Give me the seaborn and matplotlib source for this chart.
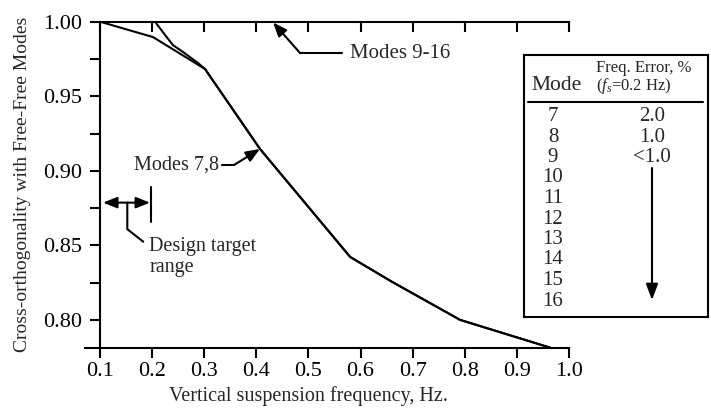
import numpy as np
import pandas as pd
import seaborn as sns
import matplotlib.pyplot as plt
from matplotlib.ticker import MultipleLocator

sns.set_theme(style="ticks")
plt.rcParams["font.family"] = ["Liberation Serif", "DejaVu Serif"]
plt.rcParams["mathtext.fontset"] = "custom"
plt.rcParams["mathtext.rm"] = "Liberation Serif"
plt.rcParams["mathtext.it"] = "Liberation Serif:italic"

# curve data
freq_78 = [0.1, 0.2017, 0.3015, 0.407, 0.580, 0.660, 0.791, 0.9637]
orth_78 = [1.0, 0.9897, 0.9683, 0.9147, 0.8423, 0.8257, 0.8001, 0.7815]
freq_916 = [0.2056, 0.2248, 0.2401, 0.2593, 0.288, 0.3015, 0.407, 0.580, 0.660, 0.791, 0.9637]
orth_916 = [1.0, 0.9911, 0.9843, 0.9797, 0.9723, 0.9683, 0.9147, 0.8423, 0.8257, 0.8001, 0.7815]

x_ticks = [0.1, 0.2, 0.3, 0.4, 0.5, 0.6, 0.7, 0.8, 0.9, 1.0]
y_ticks = [0.80, 0.85, 0.90, 0.95, 1.00]

modes = [7, 8, 9, 10, 11, 12, 13, 14, 15, 16]
freq_errors = ["2.0", "1.0", "<1.0"]

df = pd.concat([
    pd.DataFrame({"f": freq_78, "c": orth_78, "set": "Modes 7,8"}),
    pd.DataFrame({"f": freq_916, "c": orth_916, "set": "Modes 9-16"}),
])

fig = plt.figure(figsize=(7.11, 4.08), dpi=100)
ax = fig.add_axes([85 / 711, 1 - 348 / 408, 484 / 711, 326.3 / 408])

sns.lineplot(data=df, x="f", y="c", units="set", estimator=None, sort=False,
             color="black", lw=1.5, ax=ax)

ax.set_xlim(0.1 - 15 / 521, 1.0)
ax.set_ylim(0.78125, 1.0)
ax.spines["left"].set_position(("data", 0.1))
ax.spines["top"].set_bounds(0.1, 1.0)
ax.spines["right"].set_visible(False)
for s in ["left", "bottom", "top"]:
    ax.spines[s].set_linewidth(1.5)
    ax.spines[s].set_color("black")

ax.set_xticks(x_ticks)
ax.set_xticklabels([f"{v:.1f}" for v in x_ticks])
ax.set_yticks(y_ticks)
ax.set_yticklabels([f"{v:.2f}" for v in y_ticks])
ax.yaxis.set_minor_locator(MultipleLocator(0.025))
ax.tick_params(axis="both", which="both", direction="out", length=7, width=1.5,
               color="black", labelsize=16, labelcolor="black")
ax.tick_params(axis="y", pad=6)
ax.tick_params(axis="x", pad=3, top=True, labeltop=False)
ax.set_xlabel("Vertical suspension frequency, Hz.", fontsize=14.5)
ax.set_ylabel("Cross-orthogonality with Free-Free Modes", fontsize=14)
ax.xaxis.set_label_coords(0.461, -0.118)
ax.yaxis.set_label_coords(-0.112, 0.5)

# top ticks point down into the plot
for t in ax.xaxis.get_major_ticks():
    t.tick2line.set_marker(3)
    t.tick2line.set_markersize(7)

arrow = dict(arrowstyle="-|>,head_length=0.7,head_width=0.28", color="black",
             lw=1.5, shrinkA=0, shrinkB=0)

# Modes 9-16 label
ax.plot([0.5645, 0.4839], [0.979, 0.979], color="black", lw=1.5)
ax.annotate("", xy=(0.4321, 0.9995), xytext=(0.4839, 0.979), arrowprops=arrow)
ax.text(0.5798, 0.979, "Modes 9-16", fontsize=15, va="center", ha="left")

# Modes 7,8 label
ax.plot([0.3345, 0.3575], [0.904, 0.904], color="black", lw=1.5)
ax.annotate("", xy=(0.407, 0.9147), xytext=(0.3575, 0.904), arrowprops=arrow)
ax.text(0.3290, 0.904, "Modes 7,8", fontsize=14.5, va="center", ha="right")

# design target range
ax.annotate("", xy=(0.1058, 0.8787), xytext=(0.196, 0.8787),
            arrowprops=dict(arrowstyle="<|-|>,head_length=0.7,head_width=0.28",
                            color="black", lw=1.5, shrinkA=0, shrinkB=0))
ax.plot([0.197, 0.197], [0.866, 0.8894], color="black", lw=1.5)
ax.plot([0.1524, 0.1524, 0.183], [0.8787, 0.8609, 0.8525], color="black", lw=1.5)
ax.text(0.1946, 0.8555, "Design target\nrange", fontsize=14.5, va="top", ha="left",
        linespacing=1.1)

# table box
tb = fig.add_axes([524 / 711, 1 - 317 / 408, 184 / 711, 262 / 408])
tb.set_xlim(0, 184)
tb.set_ylim(262, 0)
tb.set_xticks([])
tb.set_yticks([])
for s in tb.spines.values():
    s.set_linewidth(1.5)
    s.set_color("black")
tb.text(7, 35, "Mode", fontsize=15.5, va="baseline", ha="left")
tb.text(72, 17.5, "Freq. Error, %", fontsize=12, va="baseline", ha="left")
tb.text(72, 35.5, "($f_s$=0.2 Hz)", fontsize=12, va="baseline", ha="left")
tb.plot([4, 179], [46.7, 46.7], color="black", lw=1.5)
for i, m in enumerate(modes):
    tb.text(29, 61.5 + 20.5 * i, str(m), fontsize=15, va="center", ha="center")
for i, e in enumerate(freq_errors):
    tb.text(128, 61.5 + 20.5 * i, e, fontsize=15, va="center", ha="center")
tb.annotate("", xy=(128, 245), xytext=(128, 113),
            arrowprops=dict(arrowstyle="-|>,head_length=0.8,head_width=0.3",
                            color="black", lw=1.5, shrinkA=0, shrinkB=0))

fig.savefig("out.png", dpi=100)
